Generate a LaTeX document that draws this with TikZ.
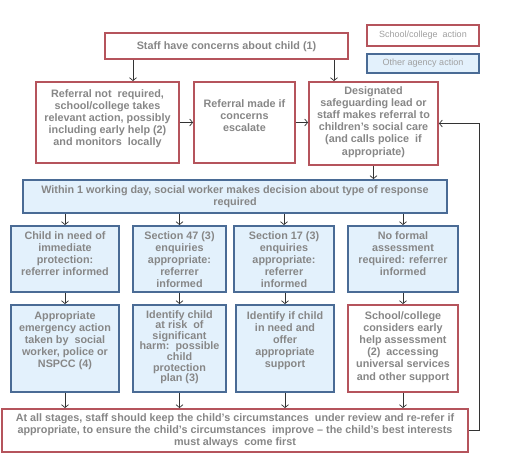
\documentclass[tikz,border=0pt]{standalone}
\usepackage{fontspec}
\setmainfont{Liberation Sans}
\usetikzlibrary{arrows.meta}
\definecolor{redb}{HTML}{B5545C}
\definecolor{blueb}{HTML}{4A6B95}
\definecolor{bluef}{HTML}{E3F1FC}
\definecolor{txtc}{HTML}{878787}
\definecolor{legc}{HTML}{A0A0A0}
\definecolor{arrc}{HTML}{333333}
\tikzset{
  redbox/.style={draw=redb, line width=1.8pt, fill=white, rectangle, inner sep=0pt},
  bluebox/.style={draw=blueb, line width=1.8pt, fill=bluef, rectangle, inner sep=0pt},
  txt/.style={align=center, text=txtc, font=\fontsize{10.8}{12.2}\selectfont\bfseries, inner sep=0pt, anchor=north},
  legtxt/.style={text=legc, font=\fontsize{9}{10}\selectfont},
  arr/.style={draw=arrc, line width=0.7pt, -{Straight Barb[length=3pt,width=7pt]}}
}
\begin{document}
\begin{tikzpicture}[x=1pt,y=-1pt]
\useasboundingbox (0,0) rectangle (515,470);
% legend
\node[redbox, minimum width=112pt, minimum height=21pt, legtxt] (leg1) at (423,35.5) {School/college\ \ action};
\node[bluebox, minimum width=112pt, minimum height=19pt, legtxt] (leg2) at (423,63.5) {Other\ agency\ action};
% top
\node[redbox, minimum width=243pt, minimum height=26pt] (top) at (226.5,46) {};
\node[txt, anchor=center] (topt) at ([yshift=-1pt]top.center) {Staff have concerns about child (1)};
% row 2
\node[redbox, minimum width=143pt, minimum height=81pt] (r1) at (107.5,122.5) {};
\node[txt] (r1t) at ([yshift=-8pt]r1.north) {Referral not\ \ required,\\school/college takes\\relevant action, possibly\\including early help (2)\\and monitors\ \ locally};
\node[redbox, minimum width=101pt, minimum height=81pt] (r2) at (244.5,122.5) {};
\node[txt] (r2t) at ([yshift=-18pt]r2.north) {Referral made if\\concerns\\escalate};
\node[redbox, minimum width=129pt, minimum height=83pt] (r3) at (373.5,123.5) {};
\node[txt] (r3t) at ([yshift=-5pt]r3.north) {Designated\\safeguarding lead or\\staff makes referral to\\children's social care\\(and calls police\ \ if\\appropriate)};
% decision
\node[bluebox, minimum width=424pt, minimum height=33pt] (dec) at (235,196.5) {};
\node[txt] (dect) at ([yshift=-6pt]dec.north) {Within 1 working day, social worker makes decision about type of response\\required};
% row 3
\node[bluebox, minimum width=108pt, minimum height=66pt] (c1) at (65,259) {};
\node[txt] (c1t) at ([yshift=-6pt]c1.north) {Child in need of\\immediate\\protection:\\referrer informed};
\node[bluebox, minimum width=93pt, minimum height=66pt] (c2) at (179.5,259) {};
\node[txt] (c2t) at ([yshift=-6pt]c2.north) {Section 47 (3)\\enquiries\\appropriate:\\referrer\\informed};
\node[bluebox, minimum width=100pt, minimum height=66pt] (c3) at (284,259) {};
\node[txt] (c3t) at ([yshift=-6pt]c3.north) {Section 17 (3)\\enquiries\\appropriate:\\referrer\\informed};
\node[bluebox, minimum width=110pt, minimum height=66pt] (c4) at (403,259) {};
\node[txt] (c4t) at ([yshift=-6pt]c4.north) {No formal\\assessment\\required: referrer\\informed};
% row 4
\node[bluebox, minimum width=108pt, minimum height=87pt] (d1) at (65,348.5) {};
\node[txt] (d1t) at ([yshift=-7pt]d1.north) {Appropriate\\emergency action\\taken by\ \ social\\worker, police or\\NSPCC (4)};
\node[bluebox, minimum width=93pt, minimum height=87pt] (d2) at (179.5,348.5) {};
\node[txt, font=\fontsize{10.8}{10.6}\selectfont\bfseries] (d2t) at ([yshift=-6pt]d2.north) {Identify child\\at risk\ \ of\\significant\\harm:\ \ possible\\child\\protection\\plan (3)};
\node[bluebox, minimum width=98pt, minimum height=87pt] (d3) at (285,348.5) {};
\node[txt] (d3t) at ([yshift=-7pt]d3.north) {Identify if child\\in need and\\offer\\appropriate\\support};
\node[redbox, minimum width=110pt, minimum height=87pt] (d4) at (403,348.5) {};
\node[txt] (d4t) at ([yshift=-7pt]d4.north) {School/college\\considers early\\help assessment\\(2)\ \ accessing\\universal services\\and other support};
% bottom
\node[redbox, minimum width=466pt, minimum height=43pt] (bot) at (235,430.5) {};
\node[txt, anchor=center] (bott) at (bot.center) {At all stages, staff should keep the child's circumstances\ \ under review and re-refer if\\appropriate, to ensure the child's circumstances\ \ improve -- the child's best interests\\must always\ \ come first};
\coordinate (fb) at (479,430.5);
% connectors
\draw[arr] ([xshift=-93.5pt]top.south) -- ([xshift=-93.5pt]top.south |- r1.north);
\draw[arr] ([xshift=107.5pt]top.south) -- ([xshift=107.5pt]top.south |- r3.north);
\draw[arr] (r1.east) -- (r1.east -| r2.west);
\draw[arr] (r2.east) -- (r2.east -| r3.west);
\draw[arr] (r3.south) -- (r3.south |- dec.north);
\foreach \n in {c1,c2,c3,c4}{\draw[arr] (\n.north |- dec.south) -- (\n.north);}
\draw[arr] (c1.south) -- (c1.south |- d1.north);
\draw[arr] (c2.south) -- (c2.south |- d2.north);
\draw[arr] (d3.north |- c3.south) -- (d3.north);
\draw[arr] (c4.south) -- (c4.south |- d4.north);
\foreach \n in {d1,d2,d3,d4}{\draw[arr] (\n.south) -- (\n.south |- bot.north);}
\draw[arr] (bot.east) -- (fb) |- (r3.east);
\end{tikzpicture}
\end{document}
